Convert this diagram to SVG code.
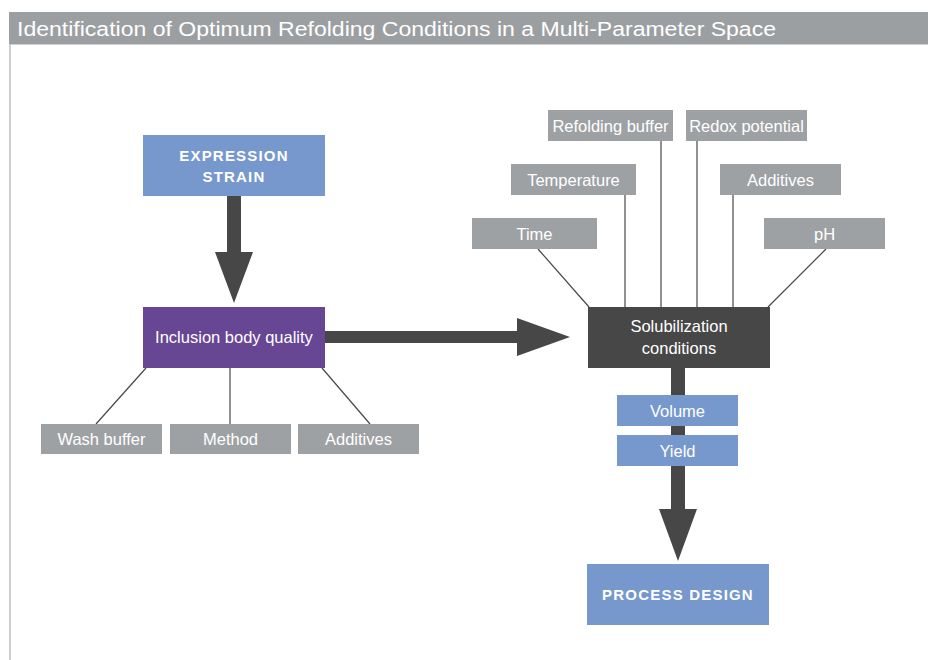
<svg xmlns="http://www.w3.org/2000/svg" width="928" height="660" viewBox="0 0 928 660">
<style>
.t{font-family:"Liberation Sans",Arial,sans-serif;fill:#fff;text-anchor:middle}
.p{font-size:16.5px}
.cap{font-size:15px;font-weight:bold;letter-spacing:1.2px}
.gray{fill:#9ea1a4}
.blue{fill:#7698cd}
.ln{stroke:#474747;stroke-width:1.2;fill:none}
.arr{fill:#474747}
</style>
<rect x="0" y="0" width="928" height="660" fill="#fff"/>
<g id="title">
<rect x="9" y="12" width="919" height="32.5" fill="#9c9fa2"/>
<rect x="9" y="44.5" width="2" height="615.5" fill="#cfcfcf"/>
<text x="17" y="36" style="font-family:'Liberation Sans',Arial,sans-serif;font-size:20px;fill:#fff" textLength="759" lengthAdjust="spacingAndGlyphs">Identification of Optimum Refolding Conditions in a Multi-Parameter Space</text>
</g>
<g id="connectors">
<line class="ln" x1="146" y1="368" x2="96" y2="424"/>
<line class="ln" x1="230" y1="368" x2="230" y2="424"/>
<line class="ln" x1="322" y1="368" x2="370" y2="424"/>
<line class="ln" x1="538" y1="249" x2="589" y2="307"/>
<line class="ln" x1="625" y1="195" x2="625" y2="307"/>
<line class="ln" x1="661" y1="141" x2="661" y2="307"/>
<line class="ln" x1="697" y1="141" x2="697" y2="307"/>
<line class="ln" x1="733" y1="195" x2="733" y2="307"/>
<line class="ln" x1="826" y1="249" x2="768" y2="307"/>
<polygon class="arr" points="227,196 241,196 241,252 253,252 234,303 215,252 227,252"/>
<polygon class="arr" points="325,331 517,331 517,318 570,337 517,356 517,343 325,343"/>
<polygon class="arr" points="671,368 685,368 685,509 697,509 678,561 659,509 671,509"/>
</g>
<g id="expression-strain">
<rect class="blue" x="143" y="135" width="182" height="61"/>
<text class="t cap" x="234" y="161">EXPRESSION</text>
<text class="t cap" x="234" y="182">STRAIN</text>
</g>
<g id="inclusion-body-quality">
<rect x="143" y="307" width="182" height="61" fill="#674694"/>
<text class="t p" x="234" y="343">Inclusion body quality</text>
</g>
<g id="wash-buffer">
<rect class="gray" x="41" y="424" width="121" height="30"/>
<text class="t p" x="101.5" y="445">Wash buffer</text>
</g>
<g id="method">
<rect class="gray" x="170" y="424" width="121" height="30"/>
<text class="t p" x="230.5" y="445">Method</text>
</g>
<g id="additives-left">
<rect class="gray" x="298" y="424" width="121" height="30"/>
<text class="t p" x="358.5" y="445">Additives</text>
</g>
<g id="refolding-buffer">
<rect class="gray" x="548" y="110" width="125" height="31"/>
<text class="t p" x="610.5" y="131.5">Refolding buffer</text>
</g>
<g id="redox-potential">
<rect class="gray" x="686" y="110" width="121" height="31"/>
<text class="t p" x="746.5" y="131.5">Redox potential</text>
</g>
<g id="temperature">
<rect class="gray" x="511" y="164" width="125" height="31"/>
<text class="t p" x="573.5" y="185.5">Temperature</text>
</g>
<g id="additives-right">
<rect class="gray" x="720" y="164" width="121" height="31"/>
<text class="t p" x="780.5" y="185.5">Additives</text>
</g>
<g id="time">
<rect class="gray" x="472" y="218" width="125" height="31"/>
<text class="t p" x="534.5" y="239.5">Time</text>
</g>
<g id="ph">
<rect class="gray" x="764" y="218" width="121" height="31"/>
<text class="t p" x="824.5" y="239.5">pH</text>
</g>
<g id="solubilization-conditions">
<rect x="588" y="307" width="182" height="61" fill="#474747"/>
<text class="t p" x="679" y="332">Solubilization</text>
<text class="t p" x="679" y="354">conditions</text>
</g>
<g id="volume">
<rect class="blue" x="617" y="395" width="121" height="31"/>
<text class="t p" x="677.5" y="416.5">Volume</text>
</g>
<g id="yield">
<rect class="blue" x="617" y="435" width="121" height="31"/>
<text class="t p" x="677.5" y="456.5">Yield</text>
</g>
<g id="process-design">
<rect class="blue" x="587" y="564" width="182" height="61"/>
<text class="t cap" x="678" y="600">PROCESS DESIGN</text>
</g>
</svg>
